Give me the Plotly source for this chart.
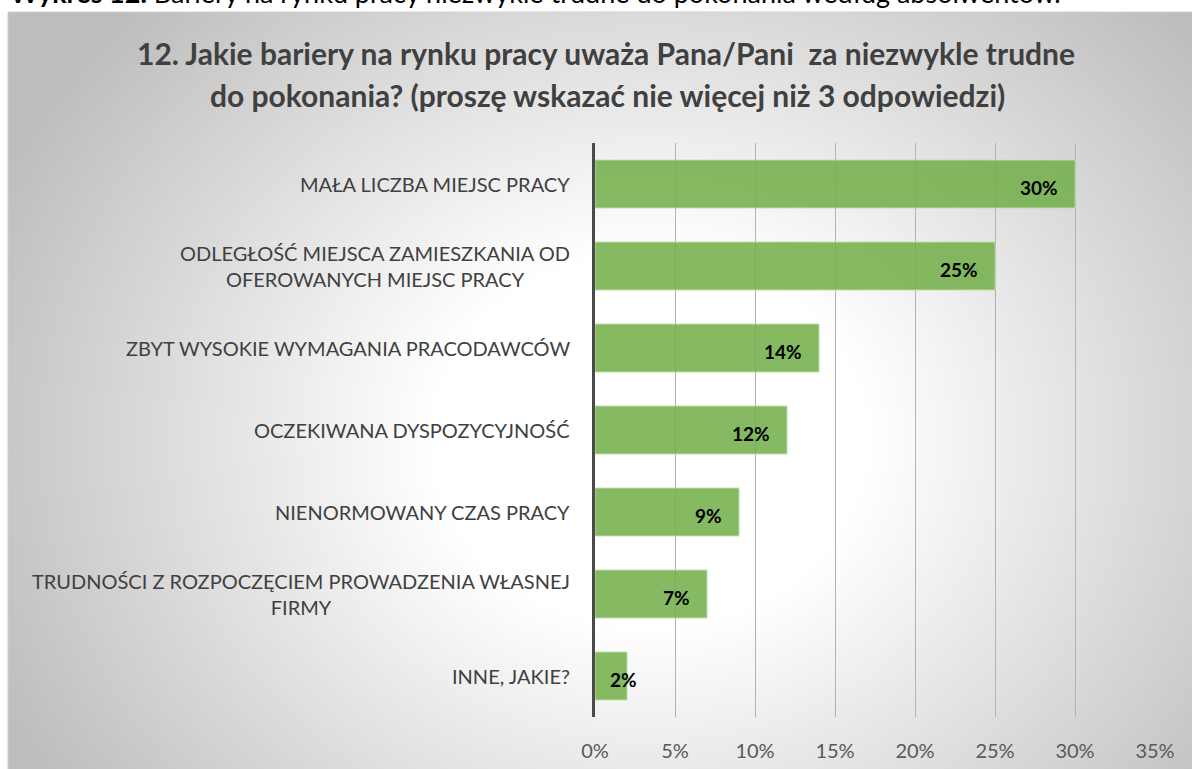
import plotly.graph_objects as go

categories = [
    "MAŁA LICZBA MIEJSC PRACY",
    "ODLEGŁOŚĆ MIEJSCA ZAMIESZKANIA OD<br>OFEROWANYCH MIEJSC PRACY",
    "ZBYT WYSOKIE WYMAGANIA PRACODAWCÓW",
    "OCZEKIWANA DYSPOZYCYJNOŚĆ",
    "NIENORMOWANY CZAS PRACY",
    "TRUDNOŚCI Z ROZPOCZĘCIEM PROWADZENIA WŁASNEJ<br>FIRMY",
    "INNE, JAKIE?",
]
values = [30, 25, 14, 12, 9, 7, 2]
tick_vals = [0, 5, 10, 15, 20, 25, 30, 35]
tick_text = ["0%", "5%", "10%", "15%", "20%", "25%", "30%", "35%"]

title_line1 = "12. Jakie bariery na rynku pracy uważa Pana/Pani  za niezwykle trudne"
title_line2 = "do pokonania? (proszę wskazać nie więcej niż 3 odpowiedzi)"
caption_bold = "Wykres 12."
caption_rest = " Bariery na rynku pracy niezwykle trudne do pokonania według absolwentów."

W, H = 1192, 769
FONT = "Lato"

fig = go.Figure()

# background gradient (decorative) on its own full-size axes
cx, cy, rx, ry = 650, 440, 720, 620
fig.add_trace(go.Scatter(
    x=[cx - rx, cx + rx, cx + rx, cx - rx, cx - rx],
    y=[cy - ry, cy - ry, cy + ry, cy + ry, cy - ry],
    mode="lines", line=dict(width=0), fill="toself",
    fillgradient=dict(type="radial",
                      colorscale=[[0, "#ffffff"], [0.3, "#ffffff"], [1, "#bdbdbd"]]),
    hoverinfo="skip", showlegend=False, xaxis="x", yaxis="y",
))

# bars
fig.add_trace(go.Bar(
    y=categories, x=values, orientation="h",
    marker=dict(color="rgba(112,173,71,0.85)",
                line=dict(color="rgba(190,225,165,0.9)", width=1)),
    width=0.585, hoverinfo="skip", showlegend=False,
    xaxis="x2", yaxis="y2",
))

annotations = []
# category labels
for c in categories:
    annotations.append(dict(
        x=0, y=c, xref="x2", yref="y2", text=c, showarrow=False,
        xanchor="right", yanchor="middle", align="center", xshift=-23,
        font=dict(family=FONT, size=20, color="#404040"),
    ))
# value labels
px_per_unit = (1155 - 595) / 35.0
for c, v in zip(categories, values):
    if v * px_per_unit > 60:
        annotations.append(dict(
            x=v, y=c, xref="x2", yref="y2", text=f"<b>{v}%</b>", showarrow=False,
            xanchor="right", yanchor="middle", xshift=-15, yshift=-3,
            font=dict(family=FONT, size=19, color="#000000"),
        ))
    else:
        annotations.append(dict(
            x=0, y=c, xref="x2", yref="y2", text=f"<b>{v}%</b>", showarrow=False,
            xanchor="left", yanchor="middle", xshift=13, yshift=-3,
            font=dict(family=FONT, size=19, color="#000000"),
        ))
# title lines
annotations.append(dict(
    x=606 / W, y=1 - 53 / H, xref="paper", yref="paper", text=f"<b>{title_line1}</b>",
    showarrow=False, xanchor="center", yanchor="middle",
    font=dict(family=FONT, size=30, color="#404040"),
))
annotations.append(dict(
    x=607 / W, y=1 - 95 / H, xref="paper", yref="paper", text=f"<b>{title_line2}</b>",
    showarrow=False, xanchor="center", yanchor="middle",
    font=dict(family=FONT, size=30, color="#404040"),
))
# caption (cut at top, as in the reference)
annotations.append(dict(
    x=8 / W, y=1 - 11 / H, xref="paper", yref="paper",
    text=f"<b>{caption_bold}</b>{caption_rest}",
    showarrow=False, xanchor="left", yanchor="bottom",
    font=dict(family=FONT, size=27, color="#000000"),
))

fig.update_layout(
    width=W, height=H,
    margin=dict(l=0, r=0, t=0, b=0, autoexpand=False),
    paper_bgcolor="#ffffff", plot_bgcolor="rgba(0,0,0,0)",
    xaxis=dict(domain=[8 / W, 1], range=[8, W], visible=False, fixedrange=True),
    yaxis=dict(domain=[0, 1 - 12 / H], range=[H, 12], visible=False, fixedrange=True),
    xaxis2=dict(domain=[595 / W, 1155 / W], range=[0, 35], anchor="y2",
                tickvals=tick_vals, ticktext=tick_text, showgrid=True,
                gridcolor="#b3b3b3", gridwidth=1, zeroline=False, showline=False,
                ticks="", ticklabelstandoff=20, automargin=False,
                tickfont=dict(family=FONT, size=20, color="#595959")),
    yaxis2=dict(domain=[1 - 717 / H, 1 - 143 / H], anchor="x2",
                categoryorder="array", categoryarray=categories, autorange="reversed",
                showticklabels=False, showgrid=False, zeroline=False, automargin=False,
                showline=True, linecolor="#4a4a4a", linewidth=3, ticks=""),
    annotations=annotations,
    shapes=[dict(type="line", xref="paper", yref="paper", x0=8 / W, x1=1,
                 y0=1 - 12 / H, y1=1 - 12 / H, line=dict(color="#d0d0d0", width=1)),
            dict(type="line", xref="paper", yref="paper", x0=8 / W, x1=8 / W,
                 y0=0, y1=1 - 12 / H, line=dict(color="#d0d0d0", width=1))],
)

fig.write_html(
    "out.html",
    config={"displayModeBar": False},
    post_script="document.body.style.margin='0';document.body.style.overflow='hidden';",
)
